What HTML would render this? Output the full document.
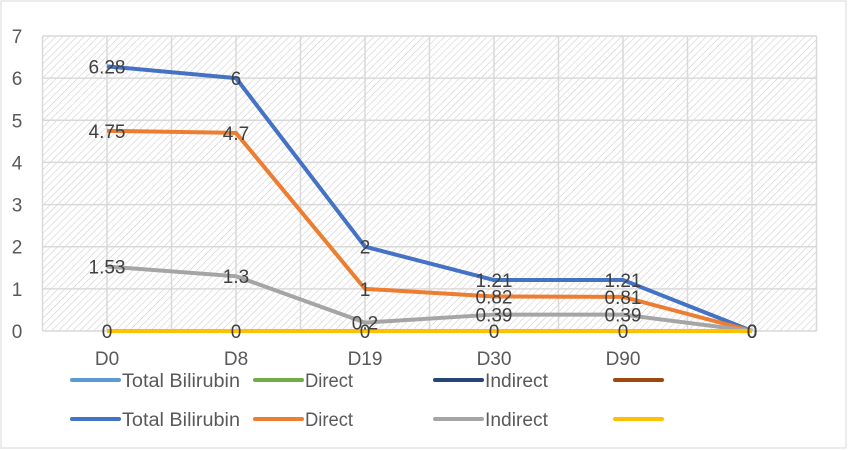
<!DOCTYPE html>
<html><head><meta charset="utf-8"><style>
html,body{margin:0;padding:0;background:#fff;}
svg{display:block;font-family:"Liberation Sans",sans-serif;}
</style></head><body>
<svg id="chart" width="848" height="450" viewBox="0 0 848 450">
<defs>
<pattern id="hatch" patternUnits="userSpaceOnUse" width="5" height="5" patternTransform="rotate(45)">
<rect width="5" height="5" fill="#fff"/><line x1="0" y1="0" x2="0" y2="5" stroke="#d0d0d0" stroke-width="1.2"/>
</pattern>
</defs>
<rect x="1" y="1" width="845" height="447" fill="#fff" stroke="#d9d9d9"/>
<g id="plot"></g>
<g id="legend"></g>
</svg>
<script>
const categories=["D0","D8","D19","D30","D90",""];
const totalBilirubin=[6.28,6,2,1.21,1.21,0];
const direct=[4.75,4.7,1,0.82,0.81,0];
const indirect=[1.53,1.3,0.2,0.39,0.39,0];
const series4=[0,0,0,0,0,0];
const yTicks=[0,1,2,3,4,5,6,7];
const seriesNames=["Total Bilirubin","Direct","Indirect",""];

const NS="http://www.w3.org/2000/svg";
const L=42.5,R=816.5,T=36,B=331,YMAX=7;
const step=(R-L)/categories.length;
function x(i){return L+step*(i+0.5);}
function y(v){return B-(B-T)*v/YMAX;}
function mk(tag,attrs,parent){const e=document.createElementNS(NS,tag);for(const k in attrs)e.setAttribute(k,attrs[k]);parent.appendChild(e);return e;}
const plot=document.getElementById('plot');
const bg=mk('rect',{x:L,y:T,width:R-L,height:B-T,fill:'url(#hatch)'},plot);


yTicks.forEach(t=>{
  const g=mk('line',{x1:L,x2:R,y1:y(t),y2:y(t),stroke:'#d9d9d9','stroke-width':1.5},plot);
  
  
  const tx=mk('text',{x:17,y:y(t)+7,'text-anchor':'middle','font-size':19,fill:'#595959'},plot);
  tx.textContent=t;
  
  
});
for(let k=0;k<=categories.length*2;k++){
  const gx=L+step/2*k;
  const g=mk('line',{x1:gx,x2:gx,y1:T,y2:B,stroke:'#d9d9d9','stroke-width':1.5},plot);
  
  
}
categories.forEach((c,i)=>{
  const tx=mk('text',{x:x(i),y:365,'text-anchor':'middle','font-size':19,fill:'#595959'},plot);
  tx.textContent=c;
  
  
});
const all=[[totalBilirubin,'#4472c4','total-bilirubin'],[direct,'#ed7d31','direct'],[indirect,'#a5a5a5','indirect'],[series4,'#ffc000','series-4']];
all.forEach(([vals,col,name])=>{
  const p=mk('polyline',{points:vals.map((v,i)=>x(i)+','+y(v)).join(' '),fill:'none',stroke:col,'stroke-width':4,'stroke-linejoin':'round'},plot);
  
  
});
all.forEach(([vals,col,name])=>{
  vals.forEach((v,i)=>{
    const tx=mk('text',{x:x(i),y:y(v)+7,'text-anchor':'middle','font-size':19,fill:'#404040'},plot);
    tx.textContent=v;
    
    
  });
});
const leg=document.getElementById('legend');
const rows=[[380,['#5b9bd5','#70ad47','#264478','#9e480e']],[419,['#4472c4','#ed7d31','#a5a5a5','#ffc000']]];
const lx=[72,255,435,615];
rows.forEach(([ly,cols])=>{
  cols.forEach((c,j)=>{
    const ln=mk('line',{x1:lx[j],x2:lx[j]+47,y1:ly,y2:ly,stroke:c,'stroke-width':4,'stroke-linecap':'round'},leg);
    
    
    const tx=mk('text',{x:lx[j]+50,y:ly+7,'font-size':19,fill:'#595959','textLength':seriesNames[j]==='Total Bilirubin'?118:(seriesNames[j]==='Direct'?48:(seriesNames[j]==='Indirect'?63:0)),'lengthAdjust':'spacingAndGlyphs'},leg);
    if(!seriesNames[j])tx.removeAttribute('textLength');
    tx.textContent=seriesNames[j];
    
    
  });
});
</script>
</body></html>
